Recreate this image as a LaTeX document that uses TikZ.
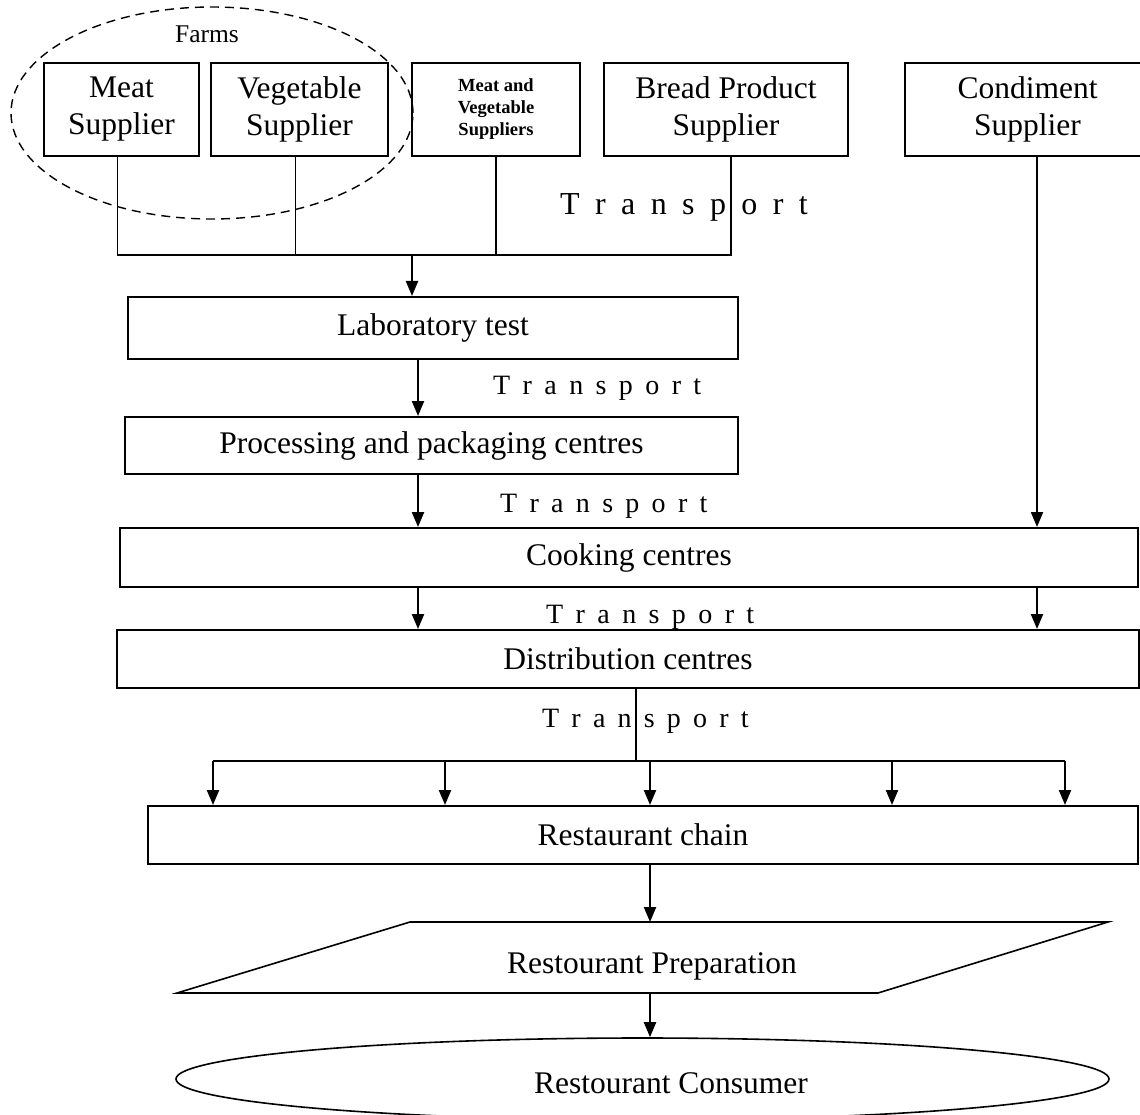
\documentclass[tikz,border=0pt]{standalone}
\usepackage{fontspec}
\setmainfont{Liberation Serif}
\usetikzlibrary{shapes.geometric,arrows.meta}

\newcommand{\bigtext}{\fontsize{31.5}{37}\selectfont}
\newcommand{\farmtext}{\fontsize{25.5}{30}\selectfont}
\newcommand{\boldtext}{\fontsize{18.5}{22}\selectfont\bfseries}
\newcommand{\transport}[1]{T\hspace{#1}r\hspace{#1}a\hspace{#1}n\hspace{#1}s\hspace{#1}p\hspace{#1}o\hspace{#1}r\hspace{#1}t}

\tikzset{
  box/.style={draw, line width=2pt, inner sep=0pt, align=center, font=\bigtext},
  supplier/.style={box, minimum height=93pt},
  link/.style={line width=1.4pt},
  arr/.style={line width=2.2pt, -{Triangle[length=15pt,width=12pt]}},
  tlabel/.style={anchor=base west, inner sep=0pt, font=\fontsize{28}{32}\selectfont}
}

\begin{document}
\begin{tikzpicture}[x=1pt,y=-1pt]
\useasboundingbox (0,0) rectangle (1140,1115);
\clip (0,0) rectangle (1140,1115);

% suppliers
\node[ellipse, draw, line width=1.4pt, dash pattern=on 9pt off 6pt, minimum width=402pt, minimum height=212pt] (farms) at (212,113) {};
\node[font=\farmtext, inner sep=0pt] (farmlabel) at (207,34) {Farms};
\node[supplier, minimum width=155pt] (meat) at (121.5,109.5) {Meat\\Supplier};
\node[supplier, minimum width=177pt] (veg) at (299.5,109.5) {Vegetable\\Supplier};
\node[supplier, minimum width=168pt, font=\boldtext] (mixed) at (496,109.5) {Meat and\\Vegetable\\Suppliers};
\node[supplier, minimum width=244pt] (bread) at (726,109.5) {Bread Product\\Supplier};
\node[supplier, minimum width=245pt] (cond) at (1027.5,109.5) {Condiment\\Supplier};

% chain of centres
\node[box, minimum width=610pt, minimum height=62pt] (lab) at (433,328) {Laboratory test};
\node[box, minimum width=613pt, minimum height=57pt] (proc) at (431.5,445.5) {Processing and packaging centres};
\node[box, minimum width=1018pt, minimum height=59pt] (cook) at (629,557.5) {Cooking centres};
\node[box, minimum width=1022pt, minimum height=58pt] (dist) at (628,659) {Distribution centres};
\node[box, minimum width=990pt, minimum height=58pt] (chain) at (643,835) {Restaurant chain};

\draw[line width=1.6pt] (177,993) -- (410,922) -- (1108,922) -- (878,993) -- cycle;
\coordinate (preptop) at (650,922);
\coordinate (prepbot) at (650,993);
\node[anchor=base, font=\bigtext, inner sep=0pt] (prep) at (652,973) {Restourant Preparation};
\node[ellipse, draw, line width=1.6pt, minimum width=933pt, minimum height=82pt] (cons) at (642.5,1079) {};
\node[anchor=base, font=\bigtext, inner sep=0pt] (constext) at (671,1093) {Restourant Consumer};

% transport labels
\node[tlabel, font=\fontsize{32}{36}\selectfont] (tr1) at (560,215) {\transport{15.4pt}};
\node[tlabel] (tr2) at (493,394) {\transport{12.4pt}};
\node[tlabel] (tr3) at (500,512) {\transport{12.3pt}};
\node[tlabel] (tr4) at (546,623) {\transport{12.4pt}};
\node[tlabel] (tr5) at (542,727) {\transport{12.2pt}};

% connectors
\coordinate (join) at (412,255);
\draw[link] ([xshift=-4pt]meat.south) |- ([xshift=5pt]bread.south |- join) -- ([xshift=5pt]bread.south);
\draw[link] ([xshift=-4pt]veg.south) -- ([xshift=-4pt]veg.south |- join);
\draw[link] (mixed.south) -- (mixed.south |- join);
\draw[arr] (join) -- (join |- lab.north);
\draw[arr] (418,0 |- lab.south) -- (418,0 |- proc.north);
\draw[arr] (418,0 |- proc.south) -- (418,0 |- cook.north);
\draw[arr] (1037,0 |- cond.south) -- (1037,0 |- cook.north);
\draw[arr] (418,0 |- cook.south) -- (418,0 |- dist.north);
\draw[arr] (1037,0 |- cook.south) -- (1037,0 |- dist.north);

\coordinate (fork) at (636,761);
\draw[link] (fork |- dist.south) -- (fork);
\draw[link] (213,0 |- fork) -- (1065,0 |- fork);
\foreach \x in {213,445,650,892,1065}
  \draw[arr] (\x,0 |- fork) -- (\x,0 |- chain.north);

\draw[arr] (preptop |- chain.south) -- (preptop);
\draw[arr] (prepbot) -- (prepbot |- cons.north);
\end{tikzpicture}
\end{document}
